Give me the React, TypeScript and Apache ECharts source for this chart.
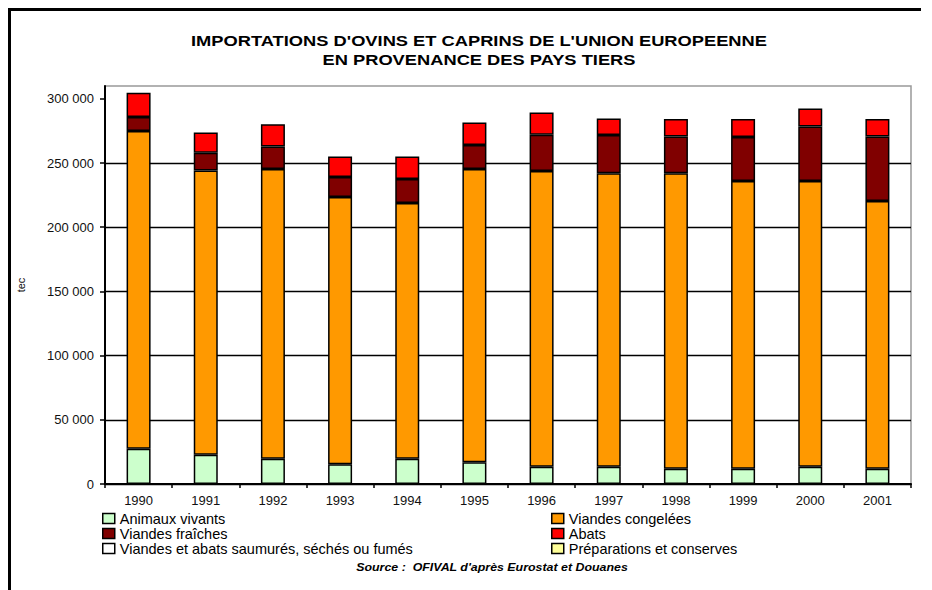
import React, { useEffect, useRef } from "react";
import * as echarts from "echarts";

const years = ["1990", "1991", "1992", "1993", "1994", "1995", "1996", "1997", "1998", "1999", "2000", "2001"];
const animauxVivants = [27500, 22800, 19700, 15300, 19700, 16900, 13500, 13500, 11900, 11900, 13500, 11900];
const viandesCongelees = [247400, 221300, 225700, 208300, 199200, 228500, 230300, 228500, 230100, 224100, 222500, 208600];
const viandesFraiches = [10900, 14000, 17400, 15500, 18700, 18600, 28300, 29800, 28600, 34300, 42400, 50100];
const abats = [19000, 15600, 17400, 15900, 17400, 17500, 17200, 12800, 13700, 14000, 14000, 13700];
const saumures = [0, 0, 0, 0, 0, 0, 0, 0, 0, 0, 0, 0];
const preparations = [0, 0, 0, 0, 0, 0, 0, 0, 0, 0, 0, 0];
const yTicks = [0, 50000, 100000, 150000, 200000, 250000, 300000];

const seriesNames = [
  "Animaux vivants",
  "Viandes congelées",
  "Viandes fraîches",
  "Abats",
  "Viandes et abats saumurés, séchés ou fumés",
  "Préparations et conserves",
];
const seriesColors = ["#CCFFCC", "#FF9900", "#800000", "#FF0000", "#FFFFFF", "#FFFF99"];
const seriesData = [animauxVivants, viandesCongelees, viandesFraiches, abats, saumures, preparations];

const FONT = "'Liberation Sans', Arial, sans-serif";

function fmt(v: number): string {
  return String(v).replace(/\B(?=(\d{3})+(?!\d))/g, " ");
}

export default function App() {
  const ref = useRef<HTMLDivElement>(null);
  useEffect(() => {
    document.body.style.margin = "0";
    const chart = echarts.init(ref.current!, null, { renderer: "svg" });
    const legendCommon = {
      orient: "vertical",
      padding: 0,
      itemWidth: 12,
      itemHeight: 10,
      itemGap: 0,
      selectedMode: false,
      icon: "rect",
      itemStyle: { borderColor: "#000", borderWidth: 1.5 },
      textStyle: { fontSize: 14.5, lineHeight: 14.7, color: "#000", fontFamily: FONT },
    };
    chart.setOption({
      animation: false,
      backgroundColor: "#fff",
      textStyle: { fontFamily: FONT },
      grid: {
        left: 105,
        top: 86,
        width: 806,
        height: 398,
        show: true,
        borderColor: "#999",
        borderWidth: 1.5,
        backgroundColor: "transparent",
      },
      legend: [
        { ...legendCommon, left: 102, top: 511, data: [seriesNames[0], seriesNames[2], seriesNames[4]] },
        { ...legendCommon, left: 551, top: 511, data: [seriesNames[1], seriesNames[3], seriesNames[5]] },
      ],
      xAxis: {
        type: "category",
        data: years,
        boundaryGap: true,
        axisLine: { lineStyle: { color: "#000", width: 2 } },
        axisTick: { show: true, length: 4, lineStyle: { color: "#000", width: 1.5 } },
        axisLabel: { fontSize: 13, color: "#111", margin: 10, fontFamily: FONT },
        splitLine: { show: false },
      },
      yAxis: {
        type: "value",
        min: 0,
        max: 310000,
        interval: 50000,
        name: "tec",
        nameLocation: "middle",
        nameRotate: 90,
        nameGap: 79,
        nameTextStyle: { fontSize: 11, color: "#111", fontFamily: FONT },
        axisLine: { show: true, lineStyle: { color: "#000", width: 2 } },
        axisTick: { show: true, length: 5, customValues: yTicks, lineStyle: { color: "#000", width: 1.5 } },
        axisLabel: {
          fontSize: 13,
          color: "#111",
          margin: 11,
          fontFamily: FONT,
          customValues: yTicks,
          formatter: (v: number) => fmt(v),
        },
        splitLine: { show: true, showMaxLine: false, lineStyle: { color: "#000", width: 1.3 } },
      },
      series: seriesNames.map((name, i) => ({
        name,
        type: "bar",
        stack: "total",
        barWidth: 24,
        itemStyle: { color: seriesColors[i], borderColor: "#000", borderWidth: 1.5 },
        emphasis: { disabled: true },
        data: seriesData[i].map((v) => (v === 0 ? null : v)),
      })),
      graphic: [
        { type: "rect", shape: { x: 8, y: 8, width: 913, height: 3 }, style: { fill: "#000" } },
        { type: "rect", shape: { x: 8, y: 8, width: 3, height: 582 }, style: { fill: "#000" } },
        {
          type: "text",
          x: 479,
          y: 41,
          scaleX: 1.22,
          style: {
            text: "IMPORTATIONS D'OVINS ET CAPRINS DE L'UNION EUROPEENNE",
            align: "center",
            verticalAlign: "middle",
            font: `bold 15px ${FONT}`,
            fill: "#000",
          },
        },
        {
          type: "text",
          x: 479,
          y: 60,
          scaleX: 1.22,
          style: {
            text: "EN PROVENANCE DES PAYS TIERS",
            align: "center",
            verticalAlign: "middle",
            font: `bold 15px ${FONT}`,
            fill: "#000",
          },
        },
        {
          type: "text",
          x: 492,
          y: 567,
          scaleX: 1.24,
          style: {
            text: "Source :  OFIVAL d'après Eurostat et Douanes",
            align: "center",
            verticalAlign: "middle",
            font: `italic bold 10px ${FONT}`,
            fill: "#000",
          },
        },
      ],
    });
    return () => chart.dispose();
  }, []);
  return <div ref={ref} style={{ width: 932, height: 590 }} />;
}
